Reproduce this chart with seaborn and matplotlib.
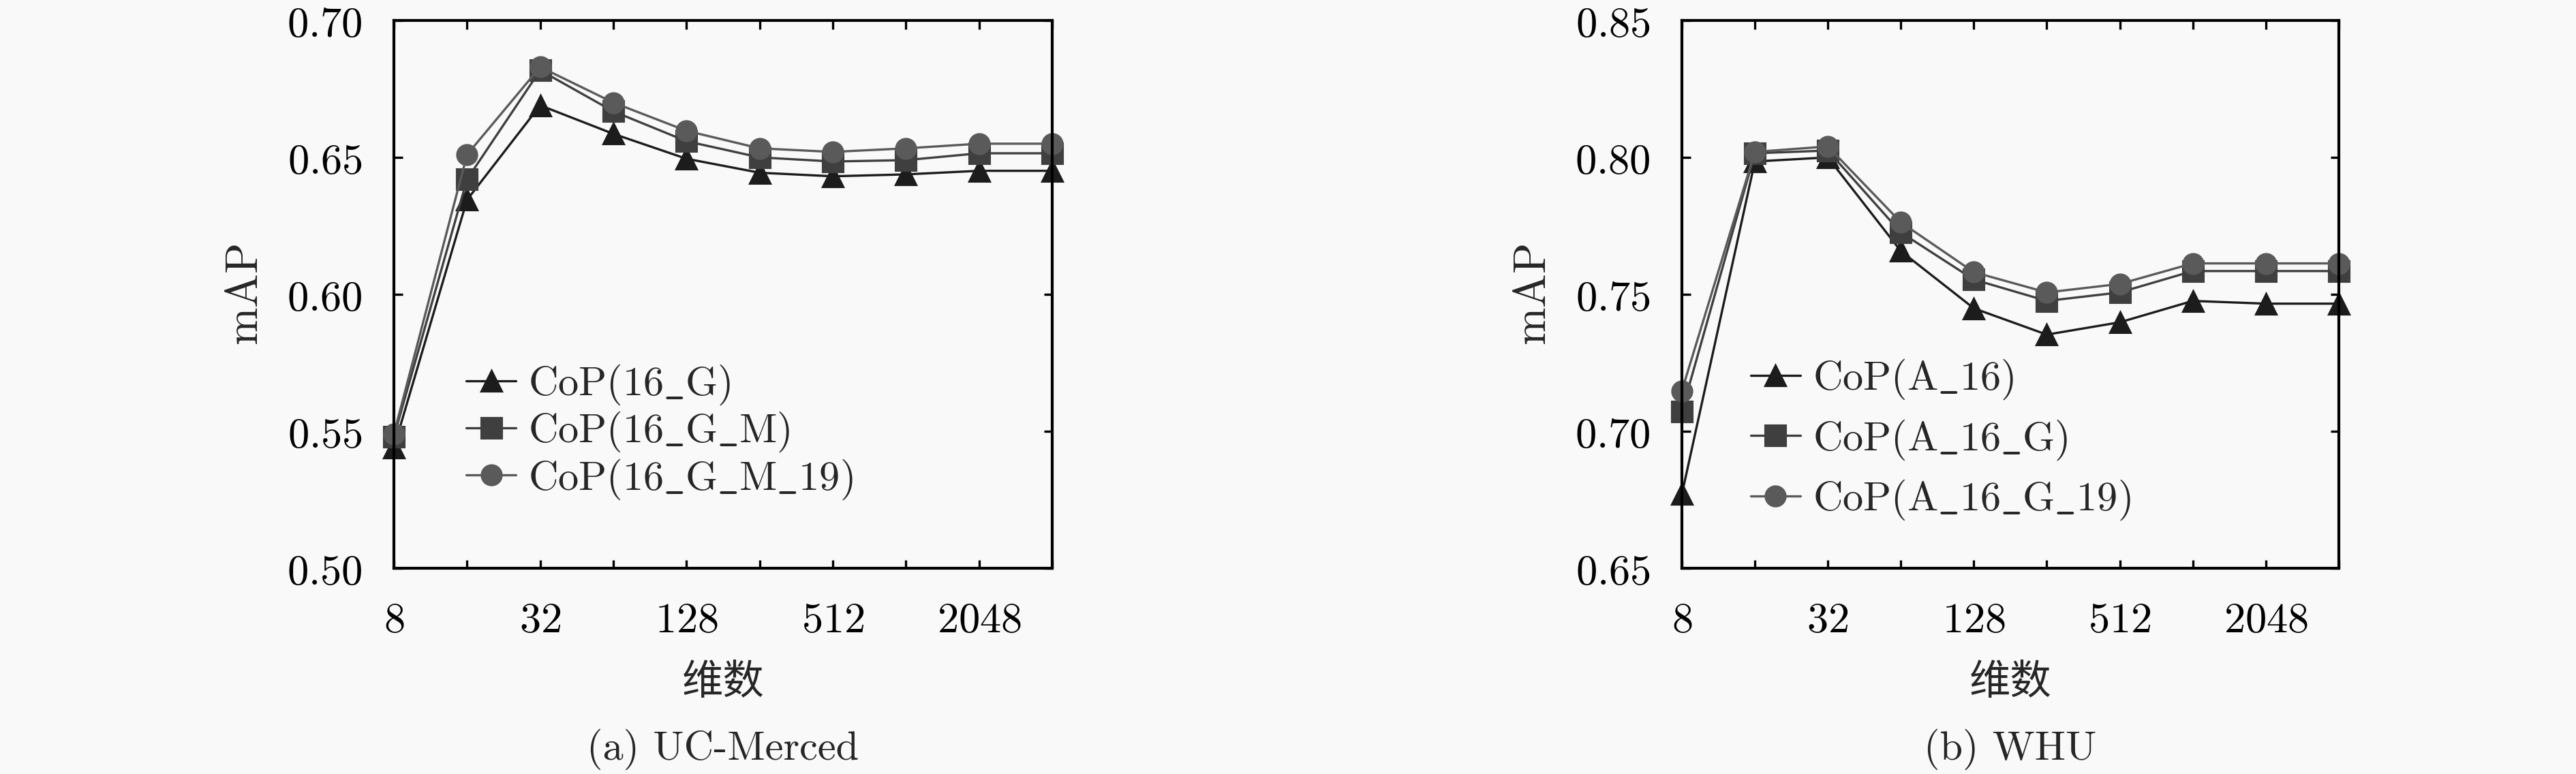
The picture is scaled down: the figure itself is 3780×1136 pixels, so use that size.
"""
Retrieval mAP vs. descriptor dimension for the CoP variants on UC-Merced and WHU.
"""

import numpy as np
import pandas as pd
import matplotlib.pyplot as plt
import seaborn as sns
from matplotlib.ticker import FixedLocator, FixedFormatter, NullLocator

DIMS = [8, 16, 32, 64, 128, 256, 512, 1024, 2048, 4096]
XTICK_LABELS = ["8", "", "32", "", "128", "", "512", "", "2048", ""]

# (a) UC-Merced
UCM_LABELS = ["CoP(16_G)", "CoP(16_G_M)", "CoP(16_G_M_19)"]
UCM_16_G = [0.544, 0.6345, 0.669, 0.6586, 0.6495, 0.6444, 0.6431, 0.6438, 0.6451, 0.6451]
UCM_16_G_M = [0.548, 0.642, 0.6818, 0.6668, 0.6559, 0.650, 0.6485, 0.649, 0.6515, 0.6515]
UCM_16_G_M_19 = [0.549, 0.651, 0.683, 0.670, 0.6597, 0.6533, 0.652, 0.6533, 0.655, 0.655]
UCM_YTICKS = [0.50, 0.55, 0.60, 0.65, 0.70]

# (b) WHU
WHU_LABELS = ["CoP(A_16)", "CoP(A_16_G)", "CoP(A_16_G_19)"]
WHU_A_16 = [0.677, 0.7985, 0.800, 0.7658, 0.7449, 0.7353, 0.7398, 0.7476, 0.7466, 0.7466]
WHU_A_16_G = [0.7073, 0.8015, 0.8025, 0.7726, 0.7554, 0.7476, 0.7507, 0.7585, 0.7585, 0.7585]
WHU_A_16_G_19 = [0.7148, 0.802, 0.804, 0.7763, 0.7581, 0.7507, 0.7538, 0.7613, 0.7613, 0.7613]
WHU_YTICKS = [0.65, 0.70, 0.75, 0.80, 0.85]

BG = "#f9f9f9"
STYLES = [("^", "#1c1c1c"), ("s", "#3f3f3f"), ("o", "#5a5a5a")]

sns.set_theme(style="ticks")
plt.rcParams["mathtext.fontset"] = "cm"
plt.rcParams["font.family"] = ["DejaVu Serif", "Noto Sans CJK SC"]


def tex(s):
    return r"$\mathrm{" + s.replace("_", r"\_") + "}$"


def draw_panel(ax, series, labels, yticks, caption, legend_anchor, labelspacing):
    df = pd.DataFrame({"dim": DIMS})
    for vals, lab, (mk, col) in zip(series, labels, STYLES):
        sns.lineplot(x=df["dim"], y=vals, ax=ax, marker=mk, markersize=7,
                     color=col, markerfacecolor=col, markeredgecolor=col,
                     linewidth=0.8, label=tex(lab), clip_on=False)

    ax.set_xscale("log", base=2)
    ax.set_xlim(8, 4096)
    ax.set_ylim(yticks[0], yticks[-1])
    ax.xaxis.set_major_locator(FixedLocator(DIMS))
    ax.xaxis.set_major_formatter(FixedFormatter(
        [f"${t}$" if t else "" for t in XTICK_LABELS]))
    ax.xaxis.set_minor_locator(NullLocator())
    ax.yaxis.set_major_locator(FixedLocator(yticks))
    ax.yaxis.set_major_formatter(FixedFormatter([f"${v:.2f}$" for v in yticks]))
    ax.tick_params(direction="in", length=3, width=0.8, top=True, right=True,
                   labelsize=15, pad=11, colors="black")
    for sp in ax.spines.values():
        sp.set_visible(True)
        sp.set_linewidth(1.0)
        sp.set_color("black")
    ax.set_facecolor(BG)

    ax.set_xlabel("维数", fontsize=14.5, family=["Noto Sans CJK SC"], labelpad=7)
    ax.set_ylabel(tex("mAP"), fontsize=16, labelpad=7)
    ax.text(0.5, -0.33, caption, transform=ax.transAxes, ha="center",
            va="center", fontsize=14.5, family=["cmr10", "DejaVu Serif"])

    ax.legend(loc="upper left", bbox_to_anchor=legend_anchor, frameon=False,
              fontsize=14.5, handlelength=1.2, handletextpad=0.3,
              labelspacing=labelspacing, borderaxespad=0)


fig = plt.figure(figsize=(12.6, 3.7867), dpi=300, facecolor=BG)
ax_a = fig.add_axes([0.1529, 0.2658, 0.2556, 0.7078])
ax_b = fig.add_axes([0.6529, 0.2658, 0.2550, 0.7078])

draw_panel(ax_a, [UCM_16_G, UCM_16_G_M, UCM_16_G_M_19], UCM_LABELS, UCM_YTICKS,
           "(a) UC-Merced", (0.085, 0.405), 0.08)
draw_panel(ax_b, [WHU_A_16, WHU_A_16_G, WHU_A_16_G_19], WHU_LABELS, WHU_YTICKS,
           "(b) WHU", (0.08, 0.415), 0.40)

fig.savefig("out.png", dpi=300, facecolor=BG)
